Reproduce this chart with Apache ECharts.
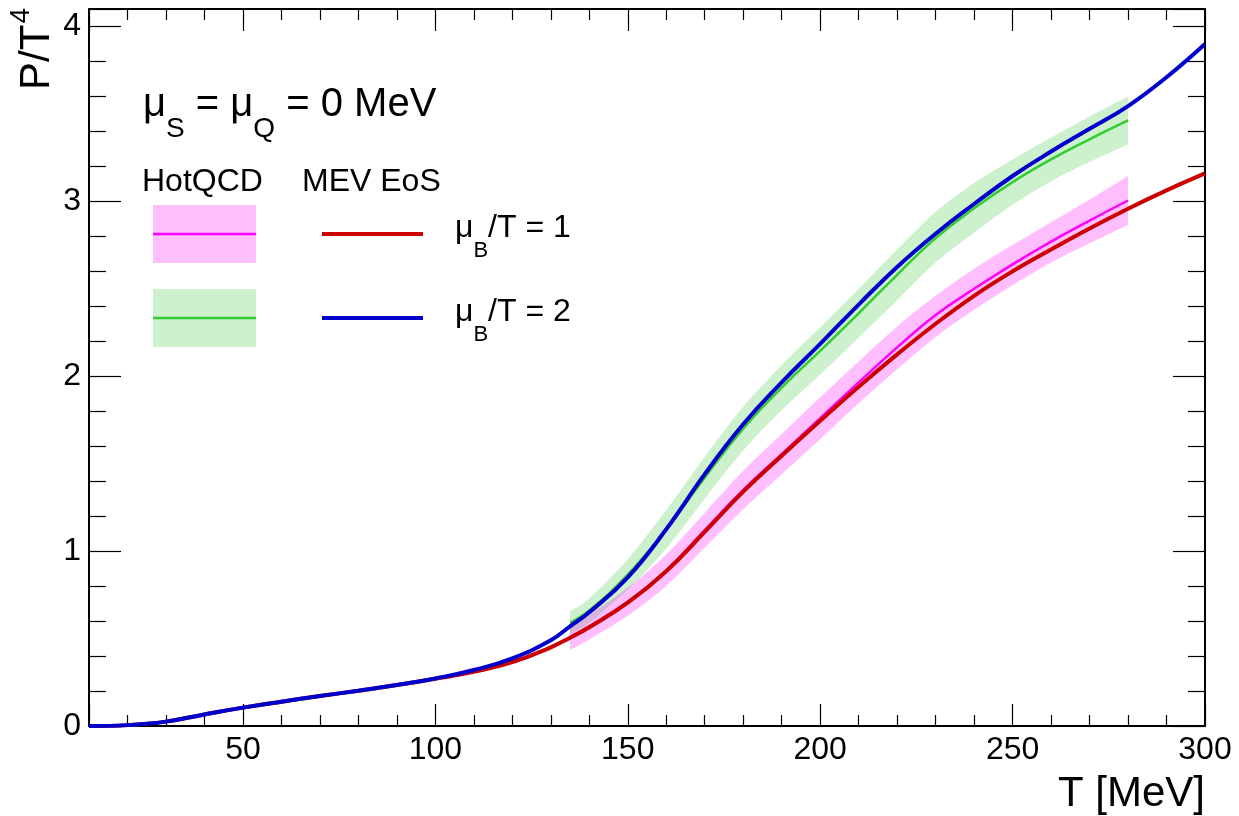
<!DOCTYPE html>
<html>
<head>
<meta charset="utf-8">
<script src="https://cdn.jsdelivr.net/npm/echarts@6/dist/echarts.min.js"></script>
<style>
  html,body{margin:0;padding:0;background:#fff}
  #main{width:1239px;height:816px}
</style>
</head>
<body>
<div id="main"></div>
<script>
// MEV EoS, P/T^4 vs T [MeV]
var tMev = [10,20,30,40,50,60,70,80,90,100,110,120,130,135,140,150,160,170,180,190,200,210,220,230,240,250,260,270,280,290,300];
var mevMuB1 = [0,0.005,0.025,0.066,0.105,0.139,0.171,0.202,0.234,0.27,0.31,0.365,0.45,0.505,0.565,0.705,0.885,1.11,1.34,1.545,1.745,1.94,2.125,2.30,2.46,2.60,2.725,2.845,2.958,3.063,3.16];
var mevMuB2 = [0,0.005,0.025,0.066,0.105,0.139,0.171,0.202,0.234,0.272,0.32,0.387,0.49,0.57,0.65,0.85,1.125,1.44,1.725,1.965,2.185,2.41,2.625,2.815,2.985,3.145,3.285,3.415,3.545,3.71,3.90];

// HotQCD bands (centre, low, high)
var tQcd = [135,140,150,160,170,180,190,200,210,220,230,240,250,260,270,280];
var qcdMuB1   = [0.51,0.57,0.71,0.89,1.12,1.35,1.555,1.76,1.965,2.165,2.35,2.50,2.64,2.77,2.89,3.005];
var qcdMuB1Lo = [0.435,0.495,0.63,0.80,1.02,1.24,1.44,1.64,1.845,2.04,2.225,2.38,2.52,2.65,2.76,2.865];
var qcdMuB1Hi = [0.565,0.635,0.79,0.98,1.22,1.46,1.67,1.88,2.085,2.285,2.46,2.615,2.75,2.88,3.01,3.145];
var qcdMuB2   = [0.59,0.66,0.865,1.125,1.42,1.70,1.935,2.145,2.36,2.58,2.79,2.96,3.11,3.24,3.355,3.463];
var qcdMuB2Lo = [0.525,0.59,0.78,1.015,1.30,1.575,1.805,2.01,2.22,2.435,2.65,2.82,2.98,3.115,3.225,3.325];
var qcdMuB2Hi = [0.655,0.73,0.955,1.235,1.54,1.825,2.065,2.28,2.50,2.725,2.94,3.105,3.24,3.365,3.485,3.60];

var FONT = 'Liberation Sans, Arial, Helvetica, sans-serif';

function pairs(xs, ys) {
  return xs.map(function (x, i) { return [x, ys[i]]; });
}

function line(xs, ys, color, width, z) {
  return {
    type: 'line', data: pairs(xs, ys), showSymbol: false, symbol: 'none',
    smooth: 0.45, z: z, silent: true,
    lineStyle: { color: color, width: width }
  };
}

// catmull-rom through pixel points -> cubic bezier commands
function curveTo(p) {
  var d = '';
  for (var i = 0; i < p.length - 1; i++) {
    var p0 = p[i - 1] || p[i], p1 = p[i], p2 = p[i + 1], p3 = p[i + 2] || p[i + 1];
    var c1x = p1[0] + (p2[0] - p0[0]) / 6, c1y = p1[1] + (p2[1] - p0[1]) / 6;
    var c2x = p2[0] - (p3[0] - p1[0]) / 6, c2y = p2[1] - (p3[1] - p1[1]) / 6;
    d += ' C' + c1x + ' ' + c1y + ' ' + c2x + ' ' + c2y + ' ' + p2[0] + ' ' + p2[1];
  }
  return d;
}

function band(lo, hi, color, z) {
  return {
    type: 'custom', z: z, silent: true,
    data: tQcd.map(function (t, i) { return [t, lo[i], hi[i]]; }),
    encode: { x: 0, y: [1, 2] },
    renderItem: function (params, api) {
      if (params.dataIndex !== 0) return null;
      var up = [], dn = [];
      for (var i = 0; i < tQcd.length; i++) up.push(api.coord([tQcd[i], hi[i]]));
      for (var j = tQcd.length - 1; j >= 0; j--) dn.push(api.coord([tQcd[j], lo[j]]));
      var d = 'M' + up[0][0] + ' ' + up[0][1] + curveTo(up) +
        ' L' + dn[0][0] + ' ' + dn[0][1] + curveTo(dn) + ' Z';
      return { type: 'path', shape: { pathData: d }, style: { fill: color } };
    }
  };
}

function xAx(pos, labels) {
  return {
    type: 'value', position: pos, min: 10, max: 300, splitNumber: 6,
    axisLine: { onZero: false, lineStyle: { color: '#000', width: 2 } },
    axisTick: { inside: true, length: 22, lineStyle: { color: '#000', width: 1.2 } },
    minorTick: { show: true, splitNumber: 5, length: 11, lineStyle: { color: '#000', width: 1.2 } },
    splitLine: { show: false },
    axisLabel: {
      show: labels, margin: 8, color: '#000', fontSize: 32, fontFamily: FONT,
      formatter: function (v) { return v % 50 === 0 ? String(v) : ''; }
    }
  };
}

function yAx(pos, labels) {
  return {
    type: 'value', position: pos, min: 0, max: 4.1, interval: 1,
    axisLine: { onZero: false, lineStyle: { color: '#000', width: 2 } },
    axisTick: { inside: true, length: 32, lineStyle: { color: '#000', width: 1.2 } },
    minorTick: { show: true, splitNumber: 5, length: 17, lineStyle: { color: '#000', width: 1.2 } },
    splitLine: { show: false },
    axisLabel: {
      show: labels, margin: 8, color: '#000', fontSize: 32, fontFamily: FONT,
      formatter: function (v) { return Math.abs(v - Math.round(v)) < 1e-6 ? String(v) : ''; }
    }
  };
}

var chart = echarts.init(document.getElementById('main'));
chart.setOption({
  animation: false,
  backgroundColor: '#fff',
  grid: { left: 89, right: 34, top: 9, bottom: 90, containLabel: false, outerBoundsMode: 'none' },
  xAxis: [xAx('bottom', true), xAx('top', false)],
  yAxis: [yAx('left', true), yAx('right', false)],
  series: [
    band(qcdMuB2Lo, qcdMuB2Hi, 'rgba(50,200,50,0.25)', 2),
    line(tQcd, qcdMuB2, '#33cc33', 2.5, 3),
    band(qcdMuB1Lo, qcdMuB1Hi, 'rgba(255,0,255,0.25)', 4),
    line(tQcd, qcdMuB1, '#ff00ff', 2.5, 5),
    line(tMev, mevMuB1, '#cc0000', 4, 6),
    line(tMev, mevMuB2, '#0000cc', 4, 7)
  ],
  graphic: [
    // axis titles
    { type: 'text', x: 7, y: 8, rotation: Math.PI / 2, z: 100,
      style: { text: '{m|P/T}{p|4}', align: 'right', verticalAlign: 'top', fill: '#000',
        rich: {
          m: { fontSize: 42, fontFamily: FONT, verticalAlign: 'top', padding: [9, 0, 0, 0], fill: '#000' },
          p: { fontSize: 28, fontFamily: FONT, verticalAlign: 'top', padding: [0, 0, 0, 1], fill: '#000' }
        } } },
    { type: 'text', x: 1205, y: 773, z: 100,
      style: { text: 'T [MeV]', align: 'right', verticalAlign: 'top', fill: '#000', font: '42px ' + FONT } },
    // mu_S = mu_Q = 0 MeV
    { type: 'text', x: 143, y: 85, z: 100,
      style: { text: '{m|μ}{s|S}{m| = μ}{s|Q}{m| = 0 MeV}', align: 'left', verticalAlign: 'top',
        rich: {
          m: { fontSize: 40, fontFamily: FONT, verticalAlign: 'top', fill: '#000' },
          s: { fontSize: 28, fontFamily: FONT, verticalAlign: 'top', padding: [30, 0, 0, 0], fill: '#000' }
        } } },
    // legend
    { type: 'text', x: 142, y: 166, z: 100,
      style: { text: 'HotQCD', align: 'left', verticalAlign: 'top', fill: '#000', font: '32px ' + FONT } },
    { type: 'text', x: 302, y: 166, z: 100,
      style: { text: 'MEV EoS', align: 'left', verticalAlign: 'top', fill: '#000', font: '32px ' + FONT } },
    { type: 'rect', shape: { x: 153, y: 205, width: 103, height: 58 }, style: { fill: 'rgba(255,0,255,0.25)' }, z: 100 },
    { type: 'line', shape: { x1: 153, y1: 234, x2: 256, y2: 234 }, style: { stroke: '#ff00ff', lineWidth: 2.5 }, z: 101 },
    { type: 'rect', shape: { x: 153, y: 289, width: 103, height: 58 }, style: { fill: 'rgba(50,200,50,0.25)' }, z: 100 },
    { type: 'line', shape: { x1: 153, y1: 318, x2: 256, y2: 318 }, style: { stroke: '#33cc33', lineWidth: 2.5 }, z: 101 },
    { type: 'line', shape: { x1: 322, y1: 234, x2: 423, y2: 234 }, style: { stroke: '#cc0000', lineWidth: 4 }, z: 101 },
    { type: 'line', shape: { x1: 322, y1: 318, x2: 423, y2: 318 }, style: { stroke: '#0000cc', lineWidth: 4 }, z: 101 },
    { type: 'text', x: 455, y: 212, z: 100,
      style: { text: '{m|μ}{s|B}{m|/T = 1}', align: 'left', verticalAlign: 'top',
        rich: {
          m: { fontSize: 32, fontFamily: FONT, verticalAlign: 'top', fill: '#000' },
          s: { fontSize: 22, fontFamily: FONT, verticalAlign: 'top', padding: [28, 0, 0, 0], fill: '#000' }
        } } },
    { type: 'text', x: 455, y: 296, z: 100,
      style: { text: '{m|μ}{s|B}{m|/T = 2}', align: 'left', verticalAlign: 'top',
        rich: {
          m: { fontSize: 32, fontFamily: FONT, verticalAlign: 'top', fill: '#000' },
          s: { fontSize: 22, fontFamily: FONT, verticalAlign: 'top', padding: [28, 0, 0, 0], fill: '#000' }
        } } }
  ]
});
</script>
</body>
</html>
